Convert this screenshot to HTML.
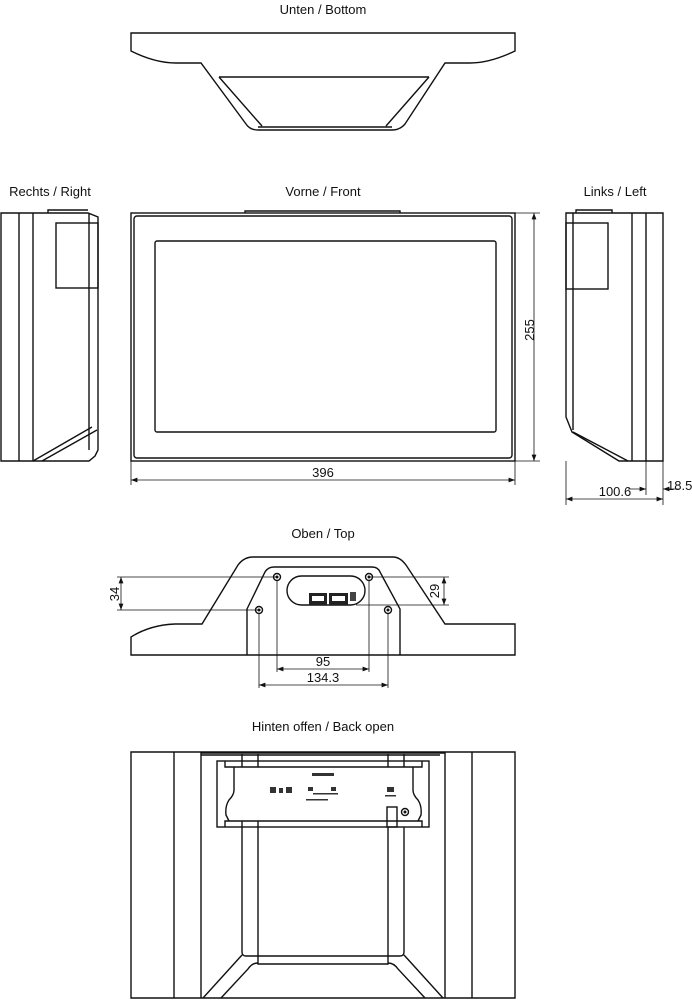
<!DOCTYPE html>
<html><head><meta charset="utf-8"><style>
body{margin:0;background:#fff}
svg{display:block}
text{font-family:"Liberation Sans",sans-serif;font-size:13px;fill:#111}
.s{fill:none;stroke:#111;stroke-width:1.4}
.t{fill:none;stroke:#111;stroke-width:0.8}
</style></head><body>
<svg width="692" height="1000" viewBox="0 0 692 1000">
<defs>
<marker id="a" markerWidth="8" markerHeight="6" refX="8" refY="3" orient="auto-start-reverse"><path d="M0,0L8,3L0,6z" fill="#111"/></marker>
</defs>
<!-- Bottom view -->
<text x="323" y="14" text-anchor="middle">Unten / Bottom</text>
<path class="s" d="M131,33 H515 V51 Q490,63 470,63 H445 L405,124 Q400,130 392,130 H258 Q250,130 246,124 L201,63 H176 Q155,63 131,51 Z"/>
<path class="s" d="M219,77 H429"/>
<path class="s" d="M219,77 L262,126 M429,77 L386,126 M258,127 H392"/>
<!-- Front -->
<text x="323" y="196" text-anchor="middle">Vorne / Front</text>
<rect class="s" x="131" y="213" width="384" height="248"/>
<rect class="s" x="134" y="216" width="378" height="242" rx="3"/>
<rect class="s" x="155" y="241" width="341" height="191" rx="2"/>
<path class="s" d="M245,213 V211 H400 V213"/>
<path class="t" d="M515,213 H540 M515,461 H540"/>
<path class="t" d="M534,213 V461" marker-start="url(#a)" marker-end="url(#a)"/>
<text transform="translate(534,330) rotate(-90)" text-anchor="middle">255</text>
<path class="t" d="M131,461 V485 M515,461 V485"/>
<path class="t" d="M131,480 H515" marker-start="url(#a)" marker-end="url(#a)"/>
<text x="323" y="477" text-anchor="middle">396</text>
<!-- Right view -->
<text x="50" y="196" text-anchor="middle">Rechts / Right</text>
<path class="s" d="M1,213 H88 L98,217 V450 L95,456 L89,461 H1 Z M19,213 V461 M33,213 V461 M89,213 V450"/>
<rect class="s" x="56" y="223" width="42" height="65"/>
<path class="s" d="M33,461 L92,427 M42,461 L97,430 M48,213 V210 H88"/>
<!-- Left view -->
<text x="615" y="196" text-anchor="middle">Links / Left</text>
<path class="s" d="M566,213 H663 V461 H619 L572,432 L566,417 Z M573,213 V430 M632,213 V461 M646,213 V461"/>
<rect class="s" x="566" y="223" width="42" height="66"/>
<path class="s" d="M573,432 L628,461 M576,213 V210 H612 V213"/>
<path class="t" d="M566,461 V505 M663,461 V505 M646,461 V495"/>
<path class="t" d="M566,499 H663" marker-start="url(#a)" marker-end="url(#a)"/>
<text x="615" y="496" text-anchor="middle">100.6</text>
<path class="t" d="M628,489 H646" marker-end="url(#a)"/>
<path class="t" d="M680,489 H663" marker-end="url(#a)"/>
<text x="667" y="490">18.5</text>
<!-- Top view -->
<text x="323" y="538" text-anchor="middle">Oben / Top</text>
<path class="s" d="M131,655 V637 Q150,625 175,624 H202 L238,565 Q244,557 253,557 H393 Q400,557 406,565 L445,624 H515 V655 Z"/>
<path class="s" d="M247,655 V609 L265,572 Q268,567 274,567 H372 Q378,567 380,572 L400,609 V655"/>
<rect class="s" x="287" y="576" width="78" height="29" rx="14.5"/>
<rect x="309" y="593" width="18" height="12" fill="#222"/><rect x="329" y="593" width="19" height="12" fill="#222"/>
<rect x="312" y="596" width="12" height="5" fill="#fff"/><rect x="332" y="596" width="13" height="5" fill="#fff"/>
<rect x="350" y="592" width="6" height="9" fill="#444"/>
<g class="s"><circle cx="277" cy="577" r="3.5"/><circle cx="369" cy="577" r="3.5"/><circle cx="259" cy="610" r="3.5"/><circle cx="388" cy="610" r="3.5"/></g>
<g fill="#111"><circle cx="277" cy="577" r="1.5"/><circle cx="369" cy="577" r="1.5"/><circle cx="259" cy="610" r="1.5"/><circle cx="388" cy="610" r="1.5"/></g>
<path class="t" d="M117,577 H277 M117,610 H259 M369,577 H449 M356,605 H449"/>
<path class="t" d="M121,577 V610" marker-start="url(#a)" marker-end="url(#a)"/>
<text transform="translate(119,594) rotate(-90)" text-anchor="middle">34</text>
<path class="t" d="M444,577 V605" marker-start="url(#a)" marker-end="url(#a)"/>
<text transform="translate(439,591) rotate(-90)" text-anchor="middle">29</text>
<path class="t" d="M277,580 V672 M369,580 V672 M259,613 V688 M388,613 V688"/>
<path class="t" d="M277,669 H369" marker-start="url(#a)" marker-end="url(#a)"/>
<text x="323" y="666" text-anchor="middle">95</text>
<path class="t" d="M259,685 H388" marker-start="url(#a)" marker-end="url(#a)"/>
<text x="323" y="682" text-anchor="middle">134.3</text>
<!-- Back open -->
<text x="323" y="731" text-anchor="middle">Hinten offen / Back open</text>
<path class="s" d="M131,752 H515 V998 H131 Z M174,752 V998 M201,752 V998 M445,752 V998 M472,752 V998"/>
<path class="s" d="M242,827 V952 Q242,956 246,956 H400 Q404,956 404,952 V827 M258,827 V964 H388 V827"/>
<path class="s" d="M242,955 L203,998 M258,963 Q252,963 248,969 L221,998 M404,955 L443,998 M388,963 Q394,963 398,969 L425,998"/>
<path class="s" d="M201,753 H445 M201,755 H440"/>
<rect class="s" x="217" y="761" width="212" height="66" fill="#fff"/>
<path class="s" d="M225,761 V767 H422 V761 M225,827 V821 H422 V827"/>
<path class="s" d="M234,767 V790 Q234,795 229,800 Q225,806 226,815 L229,821 M413,767 V790 Q413,795 418,800 Q422,806 421,815 L418,821"/>
<path class="s" d="M242,754 V767 M258,754 V767 M388,754 V767 M404,754 V767 M242,821 V827 M258,821 V827"/>
<rect class="s" x="387" y="807" width="10" height="20" fill="#fff"/>
<circle class="s" cx="405" cy="812" r="3.5"/><circle cx="405" cy="812" r="1.5" fill="#111"/>
<g fill="#333"><rect x="312" y="773" width="22" height="3"/><rect x="270" y="787" width="6" height="6"/><rect x="279" y="788" width="4" height="5"/><rect x="286" y="787" width="6" height="6"/><rect x="308" y="787" width="5" height="4"/><rect x="331" y="787" width="5" height="4"/><rect x="313" y="793" width="25" height="1.5"/><rect x="306" y="799" width="22" height="1.5"/><rect x="387" y="787" width="7" height="5"/><rect x="385" y="795" width="11" height="1.5"/></g>
</svg>
</body></html>
